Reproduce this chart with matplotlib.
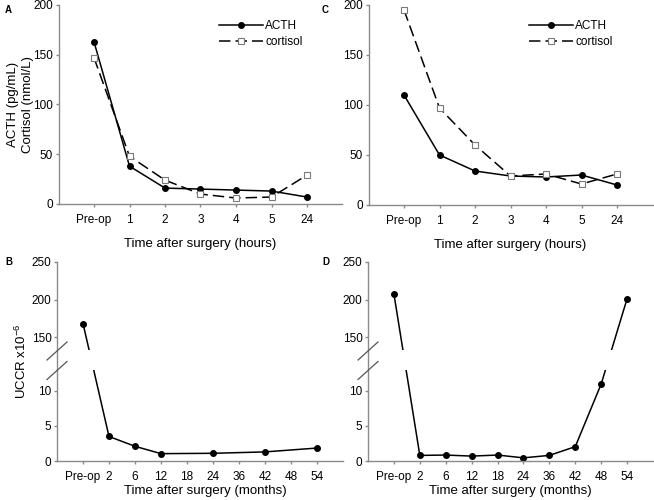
import numpy as np
import matplotlib
matplotlib.use('Agg')
import matplotlib.pyplot as plt
from matplotlib.patches import Rectangle
import matplotlib.transforms as mtransforms
from matplotlib.ticker import FixedLocator, NullLocator, FixedFormatter

plt.rcParams['font.family'] = ['Liberation Sans', 'DejaVu Sans']
plt.rcParams['mathtext.fontset'] = 'custom'
plt.rcParams['mathtext.rm'] = 'Liberation Sans'
plt.rcParams['mathtext.default'] = 'regular'

# ---- data ----
hours_labels = ['Pre-op', '1', '2', '3', '4', '5', '24']
a_acth = [163, 38, 16, 15, 14, 13, 7]
a_cortisol = [147, 48, 24, 10, 6, 7, 29]
c_acth = [110, 50, 34, 29, 28, 30, 20]
c_cortisol = [195, 97, 60, 29, 31, 21, 31]

months_labels = ['Pre-op', '2', '6', '12', '18', '24', '36', '42', '48', '54']
b_months = ['Pre-op', '2', '6', '12', '24', '42', '54']
b_uccr = [168, 3.5, 2.1, 1.05, 1.1, 1.3, 1.85]
d_months = ['Pre-op', '2', '6', '12', '18', '24', '36', '42', '48', '54']
d_uccr = [207.5, 0.8, 0.85, 0.7, 0.85, 0.45, 0.8, 2.05, 11.0, 201]

top_yticks = [0, 50, 100, 150, 200]
bottom_yticks = [0, 5, 10, 150, 200, 250]

AXC = '#8a8a8a'
FS_TICK = 8.5
FS_LAB = 9.5

W, H = 654, 500
fig = plt.figure(figsize=(W / 100, H / 100), dpi=100)


def px_axes(left, top, right, bottom):
    return fig.add_axes([left / W, 1 - bottom / H, (right - left) / W, (bottom - top) / H])


def style(ax):
    for s in ['top', 'right']:
        ax.spines[s].set_visible(False)
    for s in ['left', 'bottom']:
        ax.spines[s].set_color(AXC)
        ax.spines[s].set_linewidth(1.0)
    ax.tick_params(axis='both', colors=AXC, labelcolor='black', length=2.5, width=1.0,
                   labelsize=FS_TICK)
    ax.tick_params(axis='x', pad=4.5)
    ax.tick_params(axis='y', pad=1.5)


# break-axis scale
LOW, HIGH = 13.0, 132.7


def fwd(v):
    v = np.asarray(v, float)
    return np.where(v <= LOW, 7 * v,
                    np.where(v >= HIGH, 111 + (v - HIGH) * 0.75,
                             91 + (v - LOW) * 20 / (HIGH - LOW)))


def inv(u):
    u = np.asarray(u, float)
    return np.where(u <= 91, u / 7,
                    np.where(u >= 111, HIGH + (u - 111) / 0.75,
                             LOW + (u - 91) * (HIGH - LOW) / 20))


def top_panel(ax, acth, cort, ylabel=None):
    x = np.arange(len(hours_labels))
    ax.plot(x, acth, color='black', lw=1.1, marker='o', ms=4, label='ACTH', zorder=3)
    ax.plot(x, cort, color='black', lw=1.1, dashes=(7.5, 3.3), marker='s', ms=4.3,
            mfc='white', mec='#7a7a7a', mew=0.8, label='cortisol', zorder=3)
    ax.set_xlim(-1, 7)
    ax.set_ylim(0, 200)
    ax.set_xticks(x)
    ax.set_xticklabels(hours_labels)
    ax.set_yticks(top_yticks)
    style(ax)
    ax.set_xlabel('Time after surgery (hours)', fontsize=FS_LAB)
    ax.xaxis.set_label_coords(0.5, -0.17)
    if ylabel:
        ax.set_ylabel(ylabel, fontsize=FS_LAB, linespacing=1.25)
    ax.legend(loc='upper left', bbox_to_anchor=(0.558, 0.935), frameon=False,
              fontsize=FS_TICK, handlelength=3.7, handletextpad=0.2,
              labelspacing=0.35, borderaxespad=0, borderpad=0.2)


def bottom_panel(ax, xlabels, vals, ylabel=None, xlab_x=0.5):
    idx = [months_labels.index(m) for m in xlabels]
    ax.set_yscale('function', functions=(fwd, inv))
    ax.plot(idx, vals, color='black', lw=1.1, marker='o', ms=4, zorder=2)
    ax.set_xlim(-1, 10)
    ax.set_ylim(0, 250)
    ax.set_xticks(np.arange(len(months_labels)))
    ax.set_xticklabels(months_labels)
    ax.yaxis.set_major_locator(FixedLocator(bottom_yticks))
    ax.yaxis.set_major_formatter(FixedFormatter([str(t) for t in bottom_yticks]))
    ax.yaxis.set_minor_locator(NullLocator())
    style(ax)
    trans = mtransforms.blended_transform_factory(ax.transAxes, ax.transData)
    ax.add_patch(Rectangle((0.004, LOW), 1.0, HIGH - LOW, transform=trans,
                           facecolor='white', edgecolor='none', zorder=2.3))
    axh, axw = 199.0, 286.0
    for uc in (110, 90.5):
        ax.plot([-10 / axw, 10 / axw], [(uc - 9) / axh, (uc + 9) / axh],
                transform=ax.transAxes, color='#555555', lw=0.9, clip_on=False, zorder=4)
    ax.set_xlabel('Time after surgery (months)', fontsize=FS_LAB)
    ax.xaxis.set_label_coords(xlab_x, -0.12)
    if ylabel:
        ax.set_ylabel(ylabel, fontsize=FS_LAB)


axA = px_axes(58.5, 5, 342.5, 204)
axC = px_axes(368.5, 5, 652.5, 205)
axB = px_axes(57, 262, 343, 461)
axD = px_axes(368, 262, 653, 461)

top_panel(axA, a_acth, a_cortisol, ylabel='ACTH (pg/mL)\nCortisol (nmol/L)')
top_panel(axC, c_acth, c_cortisol)
bottom_panel(axB, b_months, b_uccr, ylabel='UCCR x10$^{-6}$', xlab_x=0.52)
bottom_panel(axD, d_months, d_uccr)

axA.yaxis.set_label_coords(-0.088, 0.5)
axB.yaxis.set_label_coords(-0.097, 0.5)

for letter, (x, y) in {'A': (5, 10), 'C': (322, 10), 'B': (5, 262), 'D': (322, 262)}.items():
    fig.text(x / W, 1 - y / H, letter, fontsize=7, fontweight='bold', va='center', ha='left')

fig.savefig('out.png', dpi=100)
